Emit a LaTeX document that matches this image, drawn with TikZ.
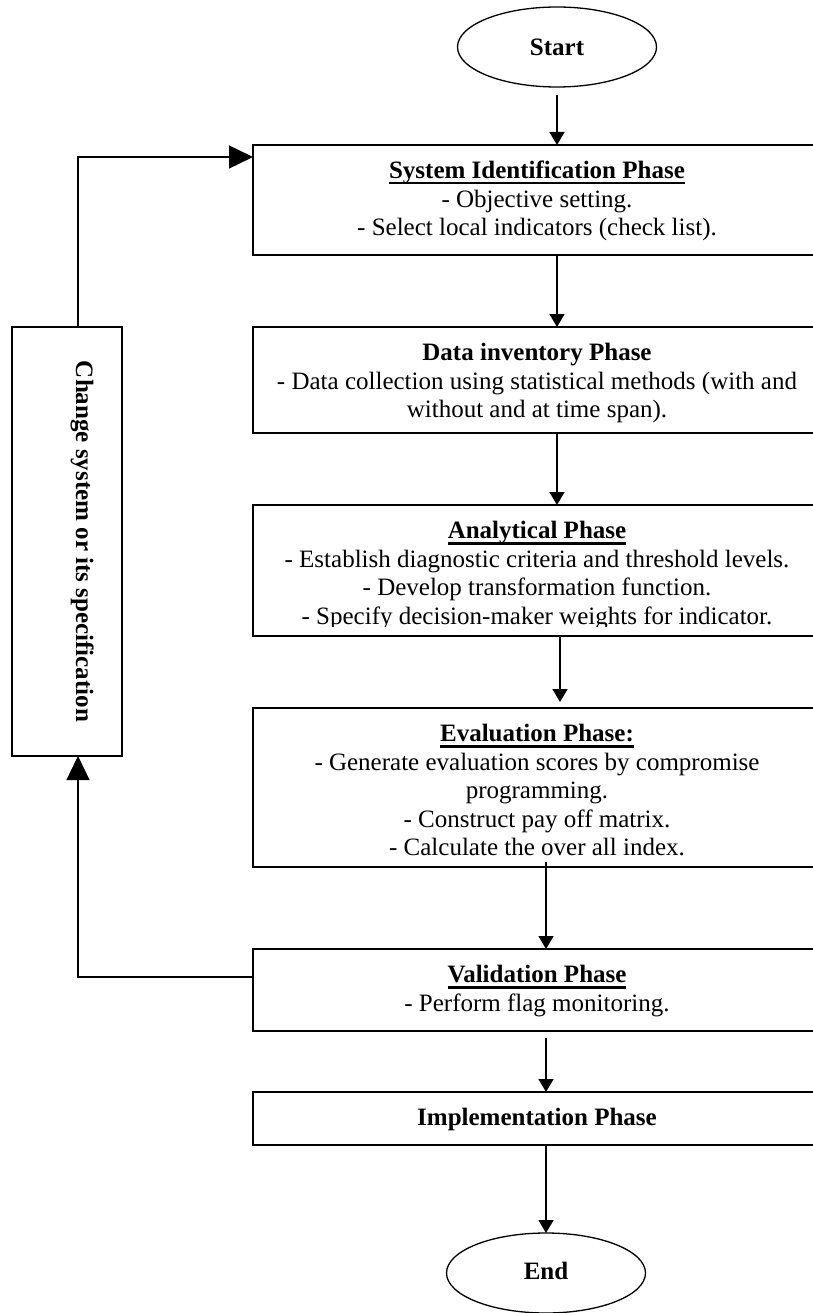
\documentclass[tikz,border=0pt]{standalone}
\usepackage{fontspec}
\setmainfont{Liberation Serif}
\usetikzlibrary{shapes.geometric, arrows.meta}
\newcommand\titleul[1]{\setbox0\hbox{#1}\rlap{\rule[-5.8pt]{\wd0}{2.2pt}}\box0}
\begin{document}
\begin{tikzpicture}[x=1pt, y=-1pt,
  phase/.style={draw, line width=2pt, rectangle, minimum width=568pt, inner sep=0pt, outer sep=0pt},
  chgbox/.style={draw, line width=2pt, rectangle, minimum width=110pt, minimum height=429pt, inner sep=0pt, outer sep=0pt},
  term/.style={draw, line width=1.3pt, ellipse, minimum width=199pt, minimum height=80pt, inner sep=0pt, outer sep=0pt, font=\bfseries\fontsize{25pt}{28.5pt}\selectfont},
  txt/.style={anchor=north, align=center, inner sep=0pt, font=\fontsize{25pt}{28.5pt}\selectfont},
  arr/.style={line width=1.4pt, -{Triangle[width=15pt,length=13pt]}},
  fb/.style={line width=1.4pt, -{Triangle[width=23pt,length=24pt]}}]
\useasboundingbox (0,0) rectangle (812,1313);

% terminals
\node[term] (st) at (557,47) {\raisebox{-4.5pt}{Start}};
\node[term] (en) at (546,1273) {\raisebox{4.5pt}{End}};

% phase boxes
\node[phase, minimum height=110pt] (b1) at (537,200) {};
\node[phase, minimum height=106pt] (b2) at (537,380) {};
\node[phase, minimum height=131pt] (b3) at (537,570.5) {};
\node[phase, minimum height=159pt] (b4) at (537,787.5) {};
\node[phase, minimum height=82pt]  (b5) at (537,990) {};
\node[phase, minimum height=53pt]  (b6) at (537,1118.5) {};
\node[chgbox] (chg) at (67,541.5) {};

% texts
\node[txt] (t1) at ([yshift=-13.55pt]b1.north) {\strut\titleul{\textbf{System Identification Phase}}\\ - Objective setting.\\ - Select local indicators (check list).};
\node[txt] (t2) at ([yshift=-13.55pt]b2.north) {\strut\textbf{Data inventory Phase}\\ - Data collection using statistical methods (with and\\ without and at time span).};
\begin{scope}
\clip (253,505) rectangle (821,626);
\node[txt] (t3) at ([yshift=-13.55pt]b3.north) {\strut\titleul{\textbf{Analytical Phase}}\\ - Establish diagnostic criteria and threshold levels.\\ - Develop transformation function.\\ - Specify decision-maker weights for indicator.};
\end{scope}
\node[txt] (t4) at ([yshift=-13.55pt]b4.north) {\strut\titleul{\textbf{Evaluation Phase:}}\\ - Generate evaluation scores by compromise\\ programming.\\ - Construct pay off matrix.\\ - Calculate the over all index.};
\node[txt] (t5) at ([yshift=-13.55pt]b5.north) {\strut\titleul{\textbf{Validation Phase}}\\ - Perform flag monitoring.};
\node[txt] (t6) at ([yshift=-13.55pt]b6.north) {\strut\textbf{Implementation Phase}};
\node[rotate=-90, anchor=base, inner sep=0pt, font=\bfseries\fontsize{25pt}{28.5pt}\selectfont] (tc) at (76,541.5) {Change system or its specification};

% main flow arrows
\draw[arr] ([yshift=-8pt]st.south) -- (st.south |- b1.north);
\draw[arr] (b1.south -| st) -- (b2.north -| st);
\draw[arr] (b2.south -| st) -- (b3.north -| st);
\draw[arr] ([xshift=3pt]b3.south -| st) -- ([xshift=3pt,yshift=6pt]b4.north -| st);
\draw[arr] ([yshift=5pt]b4.south -| en) -- (b5.north -| en);
\draw[arr] ([yshift=-7pt]b5.south -| en) -- (b6.north -| en);
\draw[arr] (b6.south -| en) -- (en.north);

% feedback loop
\draw[fb] ([yshift=13pt]b5.west) -| ([xshift=11pt]chg.south);
\draw[fb] ([xshift=11pt]chg.north) |- ([yshift=43pt]b1.west);
\end{tikzpicture}
\end{document}
